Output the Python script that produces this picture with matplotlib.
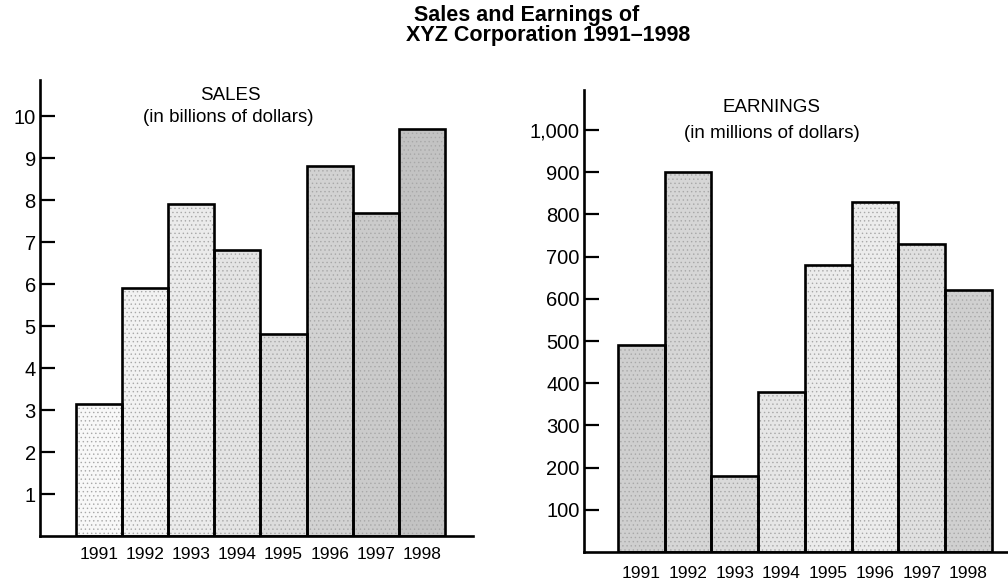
import matplotlib
matplotlib.use("Agg")
import matplotlib.pyplot as plt

plt.rcParams['font.family'] = ['Liberation Sans', 'DejaVu Sans']
plt.rcParams['hatch.linewidth'] = 0.5

years = ['1991', '1992', '1993', '1994', '1995', '1996', '1997', '1998']
sales = [3.15, 5.9, 7.9, 6.8, 4.8, 8.8, 7.7, 9.7]            # billions of dollars
earnings = [490, 900, 180, 380, 680, 830, 730, 620]         # millions of dollars
sales_ticks = [1, 2, 3, 4, 5, 6, 7, 8, 9, 10]
earn_ticks = [100, 200, 300, 400, 500, 600, 700, 800, 900, 1000]
earn_tick_labels = ['100', '200', '300', '400', '500', '600', '700', '800', '900', '1,000']

# grey stipple tone of each bar, light to dark
sales_shades = ['#f8f8f8', '#f2f2f2', '#ebebeb', '#e4e4e4', '#dcdcdc', '#d2d2d2', '#cbcbcb', '#c3c3c3']
earn_shades = ['#cfcfcf', '#d6d6d6', '#dadada', '#e6e6e6', '#ececec', '#ececec', '#e0e0e0', '#d0d0d0']

W, H = 1008, 582
fig = plt.figure(figsize=(W / 100, H / 100), dpi=100)


def px_axes(x0, top, x1, bottom):
    return fig.add_axes([x0 / W, 1 - bottom / H, (x1 - x0) / W, (bottom - top) / H])


def draw_panel(ax, values, shades, ticks, ticklabels, ylim, xlim, xpad):
    x = list(range(len(values)))
    ax.bar(x, values, width=1.0, color=shades, edgecolor='#a8a8a8', linewidth=0,
           hatch='....', zorder=2)
    ax.bar(x, values, width=1.0, fill=False, edgecolor='black', linewidth=1.9, zorder=3)
    ax.set_xlim(*xlim)
    ax.set_ylim(*ylim)
    for side in ['top', 'right']:
        ax.spines[side].set_visible(False)
    for side in ['left', 'bottom']:
        ax.spines[side].set_linewidth(1.9)
        ax.spines[side].set_zorder(4)
    ax.set_yticks(ticks)
    ax.set_yticklabels(ticklabels)
    ax.tick_params(axis='y', direction='in', length=11, width=1.6, pad=3,
                   labelsize=14.5)
    ax.set_xticks(x)
    ax.set_xticklabels(years)
    ax.tick_params(axis='x', length=0, pad=xpad, labelsize=12.5)
    ax.patch.set_visible(False)


ax1 = px_axes(40, 80, 473, 536)
draw_panel(ax1, sales, sales_shades, sales_ticks, [str(t) for t in sales_ticks],
           (0, 10.86), (-1.28, 8.11), 8)

ax2 = px_axes(584, 90, 1008, 552)
draw_panel(ax2, earnings, earn_shades, earn_ticks, earn_tick_labels,
           (0, 1095), (-1.23, 7.85), 10)

# panel captions
fig.text(230 / W, 1 - 95 / H, 'SALES', ha='center', va='center', fontsize=13.5)
fig.text(228 / W, 1 - 118 / H, '(in billions of dollars)', ha='center', va='center', fontsize=13.5)
fig.text(772 / W, 1 - 108 / H, 'EARNINGS', ha='center', va='center', fontsize=13.5)
fig.text(772 / W, 1 - 133 / H, '(in millions of dollars)', ha='center', va='center', fontsize=13.5)

# main title
fig.text(527 / W, 1 - 15 / H, 'Sales and Earnings of', ha='center', va='center',
         fontsize=15.5, fontweight='bold')
fig.text(548 / W, 1 - 36 / H, 'XYZ Corporation 1991\u20131998', ha='center', va='center',
         fontsize=15.5, fontweight='bold')

fig.savefig('out.png', dpi=100)
